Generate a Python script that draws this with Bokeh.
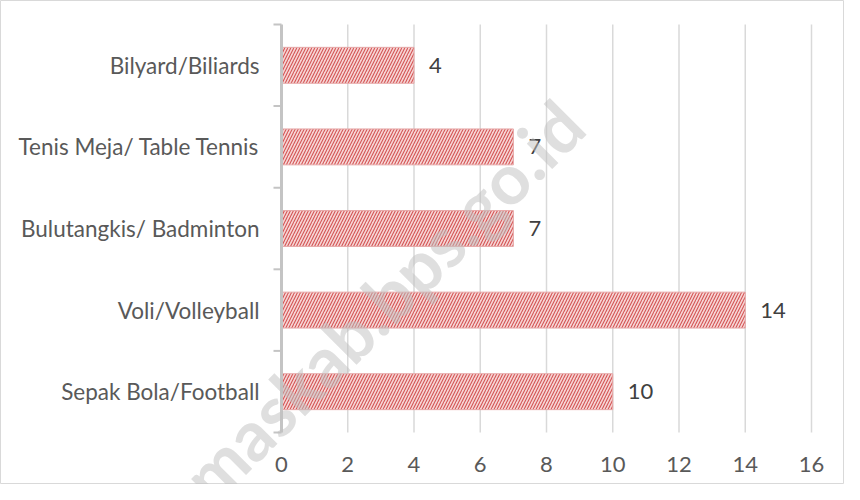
import math
from bokeh.plotting import figure
from bokeh.models import ColumnDataSource, Range1d
from bokeh.core.properties import value
from bokeh.embed import file_html
from bokeh.resources import INLINE

# Data (bottom to top)
categories = ["Sepak Bola/Football", "Voli/Volleyball", "Bulutangkis/ Badminton",
              "Tenis Meja/ Table Tennis", "Bilyard/Biliards"]
counts = [10, 14, 7, 7, 4]
x_ticks = [0, 2, 4, 6, 8, 10, 12, 14, 16]
watermark_text = "banyumaskab.bps.go.id"

# Layout (pixels inside the plot canvas)
W, H = 844, 484
FL, FR, FT, FB = 281, 811, 24, 432
XMAX = 16
NCAT = len(categories)
ppx = (FR - FL) / XMAX
ppy = (FB - FT) / NCAT

def px_to_x(px):
    return (px - FL) / ppx

def py_to_y(py):
    return NCAT - (py - FT) / ppy

FONT = "Lato"
TXT = "#595959"

p = figure(width=W, height=H, output_backend="svg", toolbar_location=None,
           x_axis_type=None, y_axis_type=None,
           x_range=Range1d(px_to_x(0), px_to_x(W)),
           y_range=Range1d(py_to_y(H), py_to_y(0)),
           min_border=0)
p.grid.visible = False
p.outline_line_color = "#d9d9d9"
p.outline_line_width = 1
p.background_fill_color = "white"
p.border_fill_color = "white"

pos = [i + 0.5 for i in range(NCAT)]
bounds = list(range(NCAT + 1))
src = ColumnDataSource(dict(y=pos, v=counts, lab=[str(c) for c in counts], cat=categories))

# Vertical gridlines
gx = x_ticks[1:]
p.segment(x0=gx, y0=[0] * len(gx), x1=gx, y1=[NCAT] * len(gx),
          line_color="#d9d9d9", line_width=1.5)

# Bars
p.hbar(y="y", right="v", left=0, height=0.44, source=src,
       fill_color="#f6d6d6", line_color="#e6a8a8", line_width=1,
       hatch_pattern="/", hatch_color="#cf3d3d", hatch_alpha=0.85,
       hatch_scale=6, hatch_weight=1.1)

# Y axis line and boundary ticks
p.segment(x0=[0], y0=[0], x1=[0], y1=[NCAT], line_color="#c4c4c4", line_width=3)
p.ray(x=[0] * len(bounds), y=bounds, length=8, length_units="screen",
      angle=math.pi, line_color="#c4c4c4", line_width=2)

# Category labels
p.text(x=0, y="y", text="cat", source=src, x_offset=-22,
       text_align="right", text_baseline="middle",
       text_font=value(FONT), text_font_size="22.5px", text_color=TXT)

# X tick labels
p.text(x=x_ticks, y=[0] * len(x_ticks), text=[str(t) for t in x_ticks], y_offset=32,
       text_align="center", text_baseline="middle",
       text_font=value(FONT), text_font_size="22px", text_color=TXT)

# Data labels
p.text(x="v", y="y", text="lab", source=src, x_offset=15,
       text_align="left", text_baseline="middle",
       text_font=value(FONT), text_font_size="22px", text_color="#404040")

# Watermark
p.text(x=[px_to_x(570)], y=[py_to_y(112)], text=[watermark_text], angle=math.pi / 4,
       text_align="right", text_baseline="middle",
       text_font=value(FONT), text_font_style="bold", text_font_size="70px",
       text_color="#c0c0c0", text_alpha=0.5)

open("out.html", "w").write(file_html(p, INLINE))
